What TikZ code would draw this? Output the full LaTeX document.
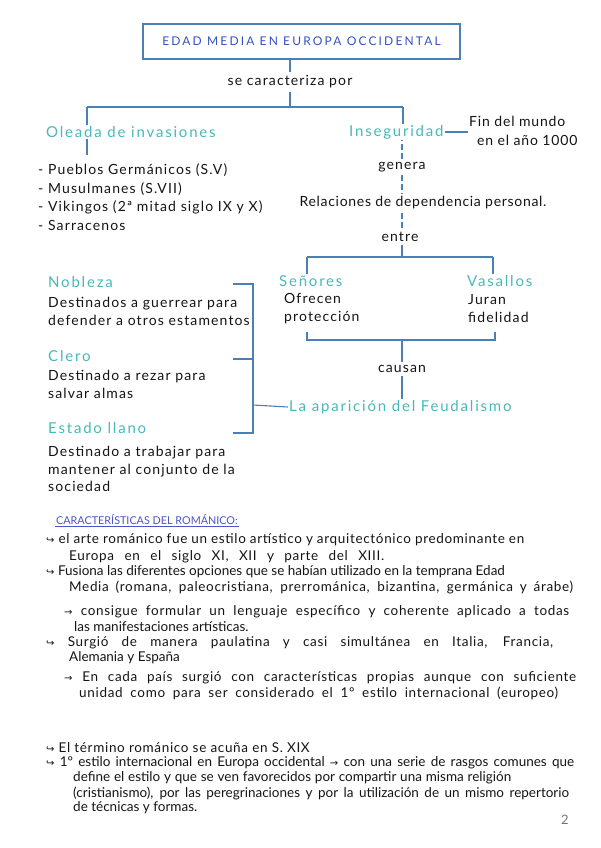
\documentclass[tikz,border=0pt]{standalone}
\usepackage{fontspec}
\setmainfont{Lato}
\newfontfamily\symfont{DejaVu Sans}
\usetikzlibrary{positioning,calc}
\definecolor{lineblue}{RGB}{74,128,182}
\definecolor{tealink}{RGB}{72,184,184}
\definecolor{titleblue}{RGB}{52,82,190}
\definecolor{headblue}{RGB}{76,84,200}
\definecolor{ink}{RGB}{20,20,20}
\newcommand\hookbul{{\symfont\fontsize{10}{12}\selectfont ↪}\ }
\newcommand\rarr{{\symfont\fontsize{10}{12}\selectfont →}\ }
\newcommand\spread[2]{\makebox[#1pt][s]{#2}}

\begin{document}
\begin{tikzpicture}[x=1pt,y=-1pt,
  link/.style={draw=lineblue,line width=1.1pt},
  dlink/.style={link,dash pattern=on 6pt off 3pt},
  head/.style={anchor=west,text=tealink,inner sep=1pt,font=\fontsize{15}{17}\selectfont\addfontfeatures{LetterSpace=12}},
  note/.style={anchor=west,text=ink,inner sep=1pt,align=left,font=\fontsize{14}{18}\selectfont\addfontfeatures{LetterSpace=8}},
  step label/.style={note,anchor=center,inner sep=3pt},
  body/.style={anchor=west,text=ink,inner sep=1pt,font=\fontsize{13.5}{15}\selectfont},
  wide body/.style={body,font=\fontsize{13.5}{15}\selectfont\addfontfeatures{LetterSpace=5}}]
\useasboundingbox (0,0) rectangle (600,848);
% title and first split
\node[draw=lineblue,line width=1.1pt,minimum width=317pt,minimum height=35pt,text=titleblue,
  font=\fontsize{12}{14}\selectfont\addfontfeatures{LetterSpace=18}] (title) at (301.5,41.5) {EDAD MEDIA EN EUROPA OCCIDENTAL};
\node[step label] (car) at (290,82) {se caracteriza por};
\draw[link] (title.south -| car) -- (car.north);
\coordinate (split) at (290,107);
\coordinate (lt) at (87,107);
\coordinate (rt) at (403,107);
\draw[link] (car.south) -- (split);
\draw[link] (lt) -- (rt);
% invasiones
\node[head] (oleada) at (45,132) {Oleada de invasiones};
\draw[link] (lt) -- (lt |- oleada.north);
\coordinate (ol-end) at (87,155);
\draw[link] (oleada.south -| lt) -- (ol-end);
\node[note] (inv1) at (37,170) {- Pueblos Germánicos (S.V)};
\node[note] (inv2) at (37,189) {- Musulmanes (S.VII)};
\node[note] (inv3) at (37,207) {- Vikingos (2ª mitad siglo IX y X)};
\node[note] (inv4) at (37,225) {- Sarracenos};
% inseguridad
\node[head] (inseg) at (348,132) {Inseguridad};
\draw[link] (rt) -- (rt |- inseg.north);
\node[note,font=\fontsize{14}{19}\selectfont\addfontfeatures{LetterSpace=6}] (fin) at (468,131) {Fin del mundo\\\hspace*{8pt}en el año 1000};
\draw[link] (inseg.east) -- (inseg.east -| fin.west);
\node[step label] (gen) at (402,167) {genera};
\node[step label,font=\fontsize{14}{18}\selectfont\addfontfeatures{LetterSpace=5}] (rel) at (423,203) {Relaciones de dependencia personal.};
\node[step label] (ent) at (400,237) {entre};
\draw[dlink] (gen.north) -- (gen.north |- inseg.south);
\draw[dlink] (gen.south) -- (gen.south |- rel.north);
\draw[dlink] (rel.south -| gen) -- (ent.north -| gen);
% senores y vasallos
\coordinate (sl) at (307,257);
\coordinate (sr) at (493,257);
\draw[link] (ent.south -| gen) -- (gen |- sl);
\draw[link] (sl) -- (sr);
\node[head] (sen) at (278,281) {Señores};
\node[head] (vas) at (466,281) {Vasallos};
\draw[link] (sl) -- (sl |- sen.north);
\draw[link] (sr) -- (sr |- vas.north);
\node[note] (ofr) at (283,309) {Ofrecen\\protección};
\node[note] (jur) at (467,309) {Juran\\fidelidad};
\coordinate (bl-top) at (307,332);
\coordinate (br-top) at (495,332);
\coordinate (bm) at (402,340);
\draw[link] (bl-top) -- (bl-top |- bm) -- (br-top |- bm) -- (br-top);
\node[step label] (cau) at (402,369) {causan};
\draw[link] (bm) -- (cau.north);
\node[head] (feud) at (288,407) {La aparición del Feudalismo};
\draw[link] (cau.south) -- (cau.south |- feud.north);
% estamentos
\node[head] (nob) at (47,282) {Nobleza};
\node[note] (nob-d) at (47,311) {Destinados a guerrear para\\defender a otros estamentos};
\node[head] (cle) at (47,356) {Clero};
\node[note] (cle-d) at (47,384) {Destinado a rezar para\\salvar almas};
\node[head] (lla) at (47,428) {Estado llano};
\node[note,font=\fontsize{14}{17.5}\selectfont\addfontfeatures{LetterSpace=8}] (lla-d) at (47,469) {Destinado a trabajar para\\mantener al conjunto de la\\sociedad};
\coordinate (k-top) at (233,284);
\coordinate (k-mid) at (233,359);
\coordinate (k-bot) at (233,433);
\coordinate (k-out) at (253,405);
\draw[link] (k-top) -- (k-top -| k-out) -- (k-bot -| k-out) -- (k-bot);
\draw[link] (k-mid) -- (k-mid -| k-out);
\draw[link] (k-out) -- (feud.west);
% romanico
\node[anchor=west,text=headblue,inner sep=1pt,font=\fontsize{10.8}{13}\selectfont] (rom) at (55,520) {CARACTERÍSTICAS DEL ROMÁNICO:};
\draw[headblue,line width=1pt] (rom.south west) -- (rom.south east);
\node[wide body] (b1) at (45,540) {\spread{478}{\hookbul el arte románico fue un estilo artístico y arquitectónico predominante en}};
\node[wide body] (b2) at (68,557) {\spread{315}{Europa en el siglo XI, XII y parte del XIII.}};
\node[body] (b3) at (45,572) {\hookbul Fusiona las diferentes opciones que se habían utilizado en la temprana Edad};
\node[wide body] (b4) at (68,587) {\spread{504}{Media (romana, paleocristiana, prerrománica, bizantina, germánica y árabe)}};
\node[wide body] (b5) at (63,612) {\spread{505}{\rarr consigue formular un lenguaje específico y coherente aplicado a todas}};
\node[body] (b6) at (73,627) {las manifestaciones artísticas.};
\node[wide body] (b7) at (45,643) {\spread{507}{\hookbul Surgió de manera paulatina y casi simultánea en Italia, Francia,}};
\node[body] (b8) at (68,658) {Alemania y España};
\node[wide body] (b9) at (63,678) {\spread{512}{\rarr En cada país surgió con características propias aunque con suficiente}};
\node[wide body] (b10) at (78,693) {\spread{479}{unidad como para ser considerado el 1º estilo internacional (europeo)}};
\node[wide body] (b11) at (45,748) {\hookbul El término románico se acuña en S. XIX};
\node[body] (b12) at (45,763) {\spread{528}{\hookbul 1º estilo internacional en Europa occidental \rarr con una serie de rasgos comunes que}};
\node[body] (b13) at (72,778) {\spread{438}{define el estilo y que se ven favorecidos por compartir una misma religión}};
\node[body] (b14) at (72,793) {\spread{496}{(cristianismo), por las peregrinaciones y por la utilización de un mismo repertorio}};
\node[body] (b15) at (72,808) {de técnicas y formas.};
\node[text=black!55,font=\fontsize{13}{15}\selectfont] (page) at (565,820) {2};
\end{tikzpicture}
\end{document}
